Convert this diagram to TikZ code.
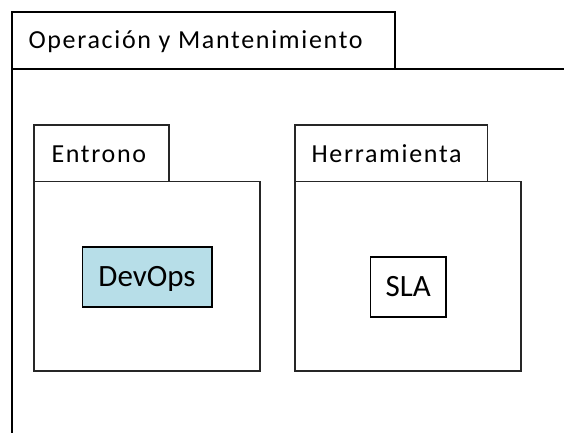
\documentclass[tikz,border=0pt]{standalone}
\usepackage{fontspec}
\setmainfont{Carlito}
\newfontfamily\pkgfont[LetterSpace=6.5]{Carlito}
\definecolor{devblue}{HTML}{B7DEE8}
\begin{document}
\begin{tikzpicture}[x=1pt,y=-1pt,
  every node/.style={outer sep=0pt},
  outerline/.style={draw=black, line width=1.7pt},
  pkgline/.style={draw=black!85, line width=1.3pt},
  pkgtext/.style={anchor=base west, inner sep=0pt, font=\pkgfont\fontsize{26}{31}\selectfont},
  itembox/.style={draw=black, line width=1.6pt, inner sep=0pt, text height=20pt, text depth=-3.8pt, font=\fontsize{31}{37}\selectfont}]
\useasboundingbox (0,0) rectangle (564,433);
\clip (0,0) rectangle (564,433);
\fill[white] (0,0) rectangle (564,433);
% outer package
\node[outerline, inner sep=0pt, anchor=north west, minimum width=383pt, minimum height=57pt] (tab0) at (12,12) {};
\coordinate (bodyTR) at (600,69);
\coordinate (bodyBL) at (12,470);
\draw[outerline] (bodyTR) -- (tab0.south west) -- (bodyBL);
\node[pkgtext] (t0) at (28.5,48.5) {Operación y Mantenimiento};
% Entrono package
\node[pkgline, inner sep=0pt, anchor=north west, minimum width=135pt, minimum height=56.7pt] (tab1) at (34,125) {};
\node[pkgline, inner sep=0pt, anchor=north west, minimum width=226pt, minimum height=189.3pt] (body1) at (34,181.7) {};
\node[pkgtext] (t1) at (51.5,162.3) {Entrono};
% Herramienta package
\node[pkgline, inner sep=0pt, anchor=north west, minimum width=192.5pt, minimum height=56.7pt] (tab2) at (295,125) {};
\node[pkgline, inner sep=0pt, anchor=north west, minimum width=226pt, minimum height=189.3pt] (body2) at (295,181.7) {};
\node[pkgtext] (t2) at (311.5,162.3) {Herramienta};
% items
\node[itembox, fill=devblue, minimum width=129.4pt, minimum height=60pt] (devops) at (147,276.7) {DevOps};
\node[itembox, fill=white, minimum width=75.3pt, minimum height=60pt] (sla) at (408.3,286.7) {SLA};
\end{tikzpicture}
\end{document}
